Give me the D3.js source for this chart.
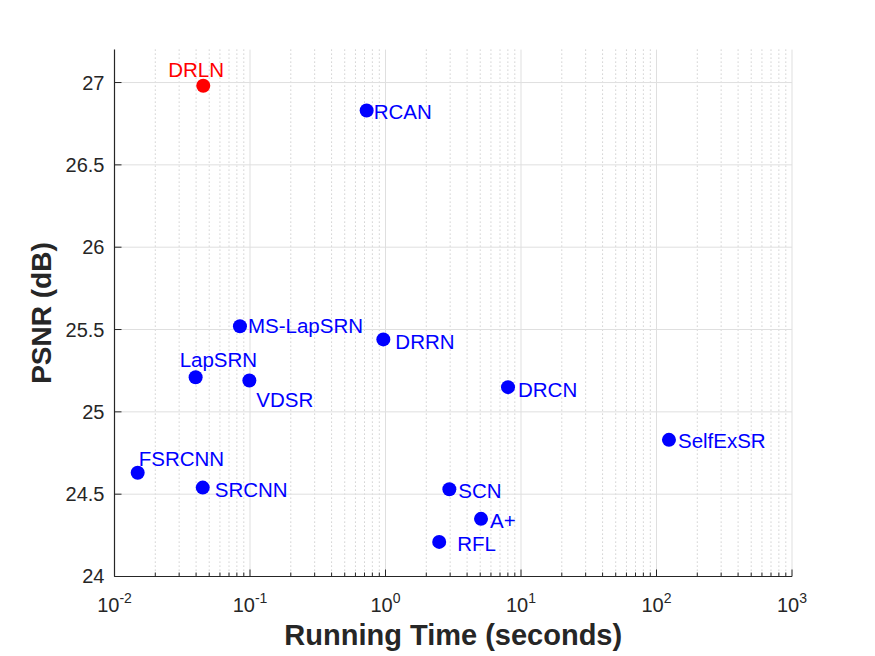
<!DOCTYPE html>
<html>
<head>
<meta charset="utf-8">
<style>
  body { margin: 0; background: #fff; }
  text { font-family: "Liberation Sans", Arial, sans-serif; }
</style>
</head>
<body>
<div id="chart-area"></div>
<script src="https://d3js.org/d3.v7.min.js"></script>
<script>
// method names, running time (s) and PSNR (dB)
var methods = ["DRLN", "RCAN", "MS-LapSRN", "DRRN", "LapSRN", "VDSR", "DRCN",
               "SelfExSR", "FSRCNN", "SRCNN", "SCN", "A+", "RFL"];
var times = [0.0452, 0.726, 0.0843, 0.964, 0.0397, 0.0989, 8.02,
             123.6, 0.01483, 0.0448, 2.96, 5.07, 2.49];
var psnr = [26.98, 26.83, 25.52, 25.44, 25.21, 25.19, 25.15,
            24.83, 24.63, 24.54, 24.53, 24.35, 24.21];
var highlight = "DRLN";

var yTicks = [24, 24.5, 25, 25.5, 26, 26.5, 27];
var xTicks = [1e-2, 1e-1, 1e0, 1e1, 1e2, 1e3];

// label offsets in px from the marker (layout only)
var labelOffset = {
  "DRLN": [-35, -16], "RCAN": [7, 1], "MS-LapSRN": [8, 0], "DRRN": [12, 2],
  "LapSRN": [-16, -17], "VDSR": [7, 19], "DRCN": [10, 3], "SelfExSR": [9, 1],
  "FSRCNN": [1, -14], "SRCNN": [12, 2], "SCN": [9, 2], "A+": [9, 2], "RFL": [18, 2]
};

var width = 875, height = 656;
var margin = {top: 49.6, right: 83, bottom: 79.5, left: 114.5};
var w = width - margin.left - margin.right;
var h = height - margin.top - margin.bottom;

var svg = d3.select("#chart-area").append("svg")
    .attr("width", width).attr("height", height);
var g = svg.append("g")
    .attr("transform", `translate(${margin.left},${margin.top})`);

var x = d3.scaleLog().domain([1e-2, 1e3]).range([0, w]);
var y = d3.scaleLinear().domain([24, 27.2]).range([h, 0]);

// minor x positions
var minor = [];
xTicks.slice(0, -1).forEach(function(t) {
  for (var k = 2; k <= 9; k++) minor.push(t * k);
});

// minor dotted grid
g.selectAll(".mgrid").data(minor).enter().append("line")
    .attr("x1", d => x(d)).attr("x2", d => x(d))
    .attr("y1", 0).attr("y2", h)
    .attr("stroke", "#b8b8b8").attr("stroke-width", 1)
    .attr("stroke-dasharray", "1,3");

// major grid
g.selectAll(".xgrid").data(xTicks).enter().append("line")
    .attr("x1", d => x(d)).attr("x2", d => x(d))
    .attr("y1", 0).attr("y2", h)
    .attr("stroke", "#dfdfdf").attr("stroke-width", 1);
g.selectAll(".ygrid").data(yTicks).enter().append("line")
    .attr("x1", 0).attr("x2", w)
    .attr("y1", d => y(d)).attr("y2", d => y(d))
    .attr("stroke", "#dfdfdf").attr("stroke-width", 1);

// axes lines
var axisColor = "#262626";
g.append("line").attr("x1", 0).attr("x2", 0).attr("y1", 0).attr("y2", h)
    .attr("stroke", axisColor).attr("stroke-width", 1.2);
g.append("line").attr("x1", 0).attr("x2", w).attr("y1", h).attr("y2", h)
    .attr("stroke", axisColor).attr("stroke-width", 1.2);

// y ticks (inward)
g.selectAll(".ytick").data(yTicks).enter().append("line")
    .attr("x1", 0).attr("x2", 7)
    .attr("y1", d => y(d)).attr("y2", d => y(d))
    .attr("stroke", axisColor);
g.selectAll(".ylab").data(yTicks).enter().append("text")
    .attr("x", -10).attr("y", d => y(d))
    .attr("dy", "0.35em")
    .attr("text-anchor", "end")
    .attr("font-size", 20)
    .attr("fill", axisColor)
    .text(d => d);

// x ticks (inward)
g.selectAll(".xtick").data(xTicks).enter().append("line")
    .attr("x1", d => x(d)).attr("x2", d => x(d))
    .attr("y1", h).attr("y2", h - 7)
    .attr("stroke", axisColor);
g.selectAll(".xmtick").data(minor).enter().append("line")
    .attr("x1", d => x(d)).attr("x2", d => x(d))
    .attr("y1", h).attr("y2", h - 4)
    .attr("stroke", axisColor);
var xl = g.selectAll(".xlab").data(xTicks).enter().append("text")
    .attr("x", d => x(d)).attr("y", h + 35.5)
    .attr("text-anchor", "middle")
    .attr("font-size", 20)
    .attr("fill", axisColor);
xl.append("tspan").text("10");
xl.append("tspan").attr("dy", -9).attr("font-size", 14)
    .text(d => String(Math.round(Math.log10(d))));

// axis titles
svg.append("text")
    .attr("x", margin.left + w / 2).attr("y", 645)
    .attr("text-anchor", "middle")
    .attr("font-size", 29).attr("font-weight", "bold")
    .attr("fill", axisColor)
    .text("Running Time (seconds)");
svg.append("text")
    .attr("transform", `translate(51,${margin.top + h / 2}) rotate(-90)`)
    .attr("text-anchor", "middle")
    .attr("font-size", 28).attr("font-weight", "bold")
    .attr("fill", axisColor)
    .text("PSNR (dB)");

// points
var data = methods.map(function(m, i) {
  return {name: m, t: times[i], p: psnr[i]};
});
g.selectAll(".pt").data(data).enter().append("circle")
    .attr("cx", d => x(d.t)).attr("cy", d => y(d.p))
    .attr("r", 7)
    .attr("fill", d => d.name === highlight ? "#ff0000" : "#0000ff");
g.selectAll(".ptlab").data(data).enter().append("text")
    .attr("x", d => x(d.t) + labelOffset[d.name][0])
    .attr("y", d => y(d.p) + labelOffset[d.name][1])
    .attr("dy", "0.35em")
    .attr("font-size", 20.5)
    .attr("fill", d => d.name === highlight ? "#ff0000" : "#0000ff")
    .text(d => d.name);
</script>
</body>
</html>
